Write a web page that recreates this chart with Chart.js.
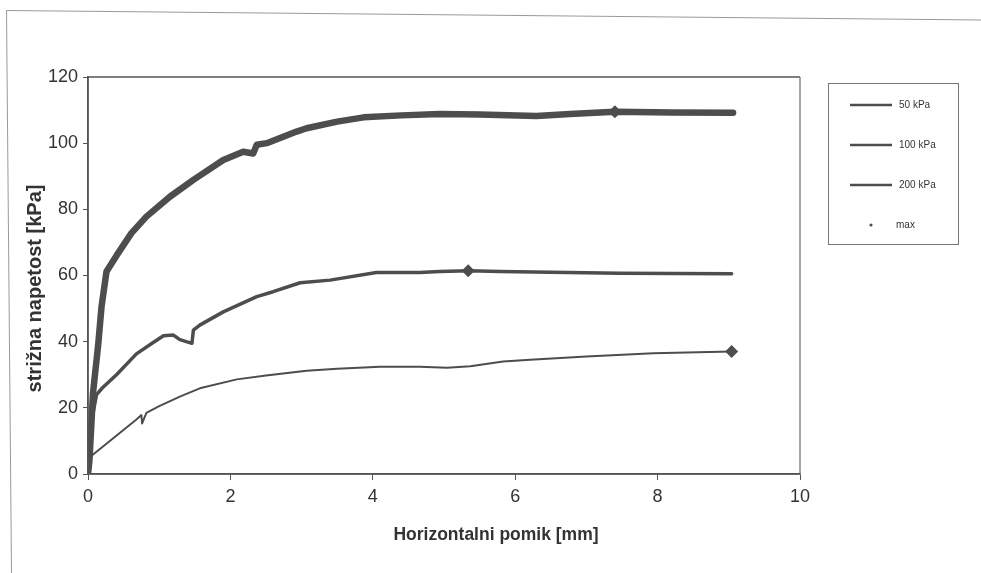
<!DOCTYPE html>
<html>
<head>
<meta charset="utf-8">
<script src="https://cdn.jsdelivr.net/npm/chart.js@4.4.1/dist/chart.umd.min.js"></script>
<style>
  html, body { margin: 0; padding: 0; background: #fff; }
  #wrap { position: relative; width: 981px; height: 573px; }
  canvas { display: block; }
</style>
</head>
<body>
<div id="wrap"><canvas id="c" width="981" height="573"></canvas></div>
<script>
// ---- data ----
const seriesNames = ['50 kPa', '100 kPa', '200 kPa', 'max'];

const x50 = [0, 0.02, 0.05, 0.68, 0.75, 0.76, 0.82, 1.0, 1.29, 1.57, 2.09, 2.5, 3.07, 3.5, 4.1, 4.66, 5.04, 5.37, 5.83, 6.21, 7.0, 7.94, 9.04];
const v50 = [0, 3, 5.5, 16.5, 17.8, 15.3, 18.5, 20.5, 23.4, 25.9, 28.6, 29.8, 31.2, 31.8, 32.4, 32.4, 32.1, 32.6, 34.0, 34.5, 35.5, 36.5, 37.0];

const x100 = [0, 0.03, 0.07, 0.12, 0.2, 0.4, 0.68, 0.9, 1.06, 1.2, 1.29, 1.46, 1.48, 1.57, 1.9, 2.37, 2.6, 2.98, 3.4, 4.05, 4.66, 4.94, 5.34, 5.79, 6.5, 7.47, 9.04];
const v100 = [0, 12, 18.3, 24, 26, 30, 36.3, 39.5, 41.8, 42, 40.6, 39.5, 43.5, 45, 49, 53.6, 55.1, 57.8, 58.6, 60.9, 60.9, 61.2, 61.4, 61.2, 61.0, 60.7, 60.5];

const x200 = [0, 0.02, 0.07, 0.145, 0.19, 0.26, 0.4, 0.61, 0.82, 1.15, 1.48, 1.9, 2.18, 2.32, 2.37, 2.51, 2.93, 3.07, 3.5, 3.87, 4.4, 4.94, 5.5, 6.3, 6.77, 7.4, 8.2, 9.06];
const v200 = [0, 4, 24.4, 39.5, 50.6, 61.2, 66, 72.8, 77.8, 83.8, 88.9, 94.9, 97.4, 96.9, 99.5, 100, 103.5, 104.5, 106.5, 107.8, 108.4, 108.8, 108.7, 108.2, 108.8, 109.5, 109.3, 109.2];

const xMax = [9.04, 5.34, 7.4];
const vMax = [37.0, 61.4, 109.5];

const xTicks = [0, 2, 4, 6, 8, 10];
const yTicks = [0, 20, 40, 60, 80, 100, 120];

const xTitle = 'Horizontalni pomik [mm]';
const yTitle = 'strižna napetost [kPa]';

// ---- build ----
const toPts = (xs, ys) => xs.map((x, i) => ({ x: x, y: ys[i] }));
const ink = '#4d4d4d';

const lineDs = (label, xs, ys, w) => ({
  label, data: toPts(xs, ys), borderColor: ink, backgroundColor: ink,
  borderWidth: w, pointRadius: 0, showLine: true, tension: 0,
  borderCapStyle: 'round', borderJoinStyle: 'round'
});

// the scanned original has its axis titles slightly off-centre
const titleShift = {
  id: 'titleShift',
  afterLayout(chart) {
    const shifts = { x: [52, -4], y: [0, 13] };
    Object.keys(shifts).forEach(k => {
      const s = chart.scales[k];
      if (!s || s._shiftPatched) return;
      const orig = s.drawTitle.bind(s);
      s.drawTitle = function () {
        const ctx = this.ctx;
        ctx.save();
        ctx.translate(shifts[k][0], shifts[k][1]);
        orig();
        ctx.restore();
      };
      s._shiftPatched = true;
    });
  }
};

const frame = {
  id: 'frame',
  beforeDraw(chart) {
    const ctx = chart.ctx;
    ctx.save();
    ctx.fillStyle = '#fff';
    ctx.fillRect(0, 0, chart.width, chart.height);
    ctx.strokeStyle = '#9a9a9a';
    ctx.lineWidth = 1;
    ctx.beginPath();
    ctx.moveTo(981, 20); ctx.lineTo(6.5, 10.5); ctx.lineTo(11.5, 573);
    ctx.stroke();
    ctx.restore();
  },
  afterDatasetsDraw(chart) {
    const a = chart.chartArea, ctx = chart.ctx;
    ctx.save();
    ctx.lineWidth = 1.5;
    ctx.strokeStyle = '#555';
    ctx.beginPath();
    ctx.moveTo(a.left, a.bottom); ctx.lineTo(a.left, a.top); ctx.lineTo(a.right, a.top);
    ctx.stroke();
    ctx.strokeStyle = '#888';
    ctx.beginPath();
    ctx.moveTo(a.right, a.top); ctx.lineTo(a.right, a.bottom);
    ctx.stroke();
    ctx.strokeStyle = '#555';
    ctx.beginPath();
    ctx.moveTo(a.left, a.bottom); ctx.lineTo(a.right, a.bottom);
    ctx.stroke();
    ctx.restore();

    // legend
    const bx = 828, by = 83, bw = 130, bh = 161;
    ctx.save();
    ctx.strokeStyle = '#777';
    ctx.lineWidth = 1;
    ctx.strokeRect(bx + 0.5, by + 0.5, bw, bh);
    ctx.font = '10px "Liberation Sans", Arial, sans-serif';
    ctx.fillStyle = '#333';
    ctx.textBaseline = 'middle';
    const rows = [105, 145, 185, 225];
    chart.data.datasets.forEach((ds, i) => {
      const y = rows[i];
      if (i < 3) {
        ctx.strokeStyle = ink;
        ctx.lineWidth = 2.5;
        ctx.beginPath();
        ctx.moveTo(850, y); ctx.lineTo(892, y);
        ctx.stroke();
      } else {
        ctx.fillStyle = ink;
        ctx.beginPath();
        ctx.arc(871, y, 1.6, 0, Math.PI * 2);
        ctx.fill();
        ctx.fillStyle = '#333';
      }
      ctx.fillText(ds.label, i < 3 ? 899 : 896, y);
    });
    ctx.restore();
  }
};

new Chart(document.getElementById('c'), {
  type: 'scatter',
  data: {
    datasets: [
      lineDs(seriesNames[0], x50, v50, 2),
      lineDs(seriesNames[1], x100, v100, 3.5),
      lineDs(seriesNames[2], x200, v200, 6.5),
      {
        label: seriesNames[3], data: toPts(xMax, vMax), showLine: false,
        pointStyle: 'rectRot', pointRadius: 6.5, pointHoverRadius: 6.5,
        backgroundColor: ink, borderColor: ink, borderWidth: 0
      }
    ]
  },
  options: {
    responsive: false,
    animation: false,
    devicePixelRatio: 1,
    layout: { padding: { left: 6, right: 181, top: 77, bottom: 23 } },
    plugins: { legend: { display: false }, tooltip: { enabled: false } },
    scales: {
      x: {
        type: 'linear', min: 0, max: 10,
        afterFit(s) { s.height = 76; },
        afterBuildTicks(s) { s.ticks = xTicks.map(v => ({ value: v })); },
        grid: { drawOnChartArea: false, drawTicks: true, tickLength: 6, color: '#555', lineWidth: 1 },
        border: { display: true, color: '#555', width: 1.5 },
        ticks: { color: '#333', padding: 6, font: { family: '"Liberation Sans", Arial, sans-serif', size: 18 } },
        title: { display: true, text: xTitle, color: '#333', padding: { top: 14, bottom: 0 },
                 font: { family: '"Liberation Sans", Arial, sans-serif', size: 17.5, weight: 'bold' } }
      },
      y: {
        type: 'linear', min: 0, max: 120,
        afterFit(s) { s.width = 82; },
        afterBuildTicks(s) { s.ticks = yTicks.map(v => ({ value: v })); },
        grid: { drawOnChartArea: false, drawTicks: true, tickLength: 5, color: '#555', lineWidth: 1 },
        border: { display: true, color: '#555', width: 1.5 },
        ticks: { color: '#333', padding: 5, font: { family: '"Liberation Sans", Arial, sans-serif', size: 18 } },
        title: { display: true, text: yTitle, color: '#333', padding: { top: 17, bottom: 0 },
                 font: { family: '"Liberation Sans", Arial, sans-serif', size: 20, weight: 'bold' } }
      }
    }
  },
  plugins: [frame, titleShift]
});
</script>
</body>
</html>
